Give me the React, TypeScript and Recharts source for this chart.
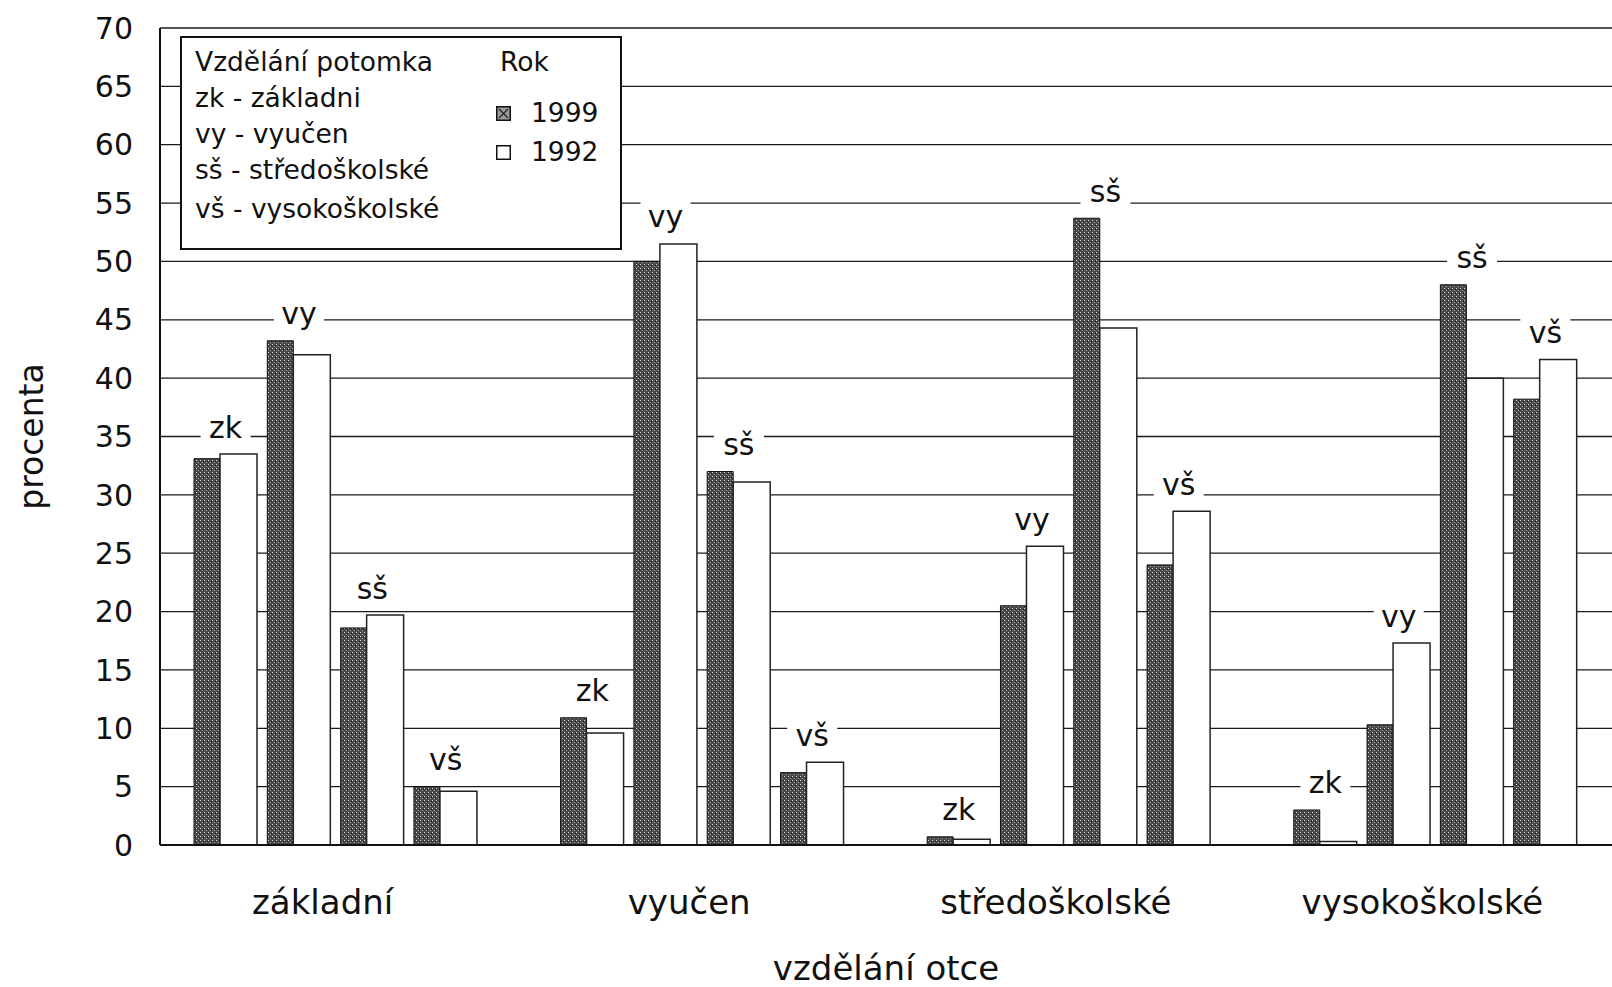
import React from 'react';
import { ComposedChart, Bar, Line, XAxis, YAxis, CartesianGrid, LabelList, Legend } from 'recharts';

const fatherEducation = ['základní', 'vyučen', 'středoškolské', 'vysokoškolské'];
const childCodes = ['zk', 'vy', 'sš', 'vš'];
const values1999 = [
  [33.1, 43.2, 18.6, 5.0],
  [10.9, 50.0, 32.0, 6.2],
  [0.7, 20.5, 53.7, 24.0],
  [3.0, 10.3, 48.0, 38.2],
];
const values1992 = [
  [33.5, 42.0, 19.7, 4.6],
  [9.6, 51.5, 31.1, 7.1],
  [0.5, 25.6, 44.3, 28.6],
  [0.3, 17.3, 40.0, 41.6],
];
const yTicks = [0, 5, 10, 15, 20, 25, 30, 35, 40, 45, 50, 55, 60, 65, 70];
const legendTitle = 'Vzdělání potomka';
const legendLines = ['zk - základni', 'vy - vyučen', 'sš - středoškolské', 'vš - vysokoškolské'];
const legendYearTitle = 'Rok';
const yearLabels = ['1999', '1992'];
const yAxisTitle = 'procenta';
const xAxisTitle = 'vzdělání otce';

type Row = {
  slot: string;
  code: string;
  group: string;
  showGroup: boolean;
  v1999: number | null;
  v1992: number | null;
  top: number | null;
};

const data: Row[] = [];
fatherEducation.forEach((g, gi) => {
  childCodes.forEach((c, ci) => {
    const a = values1999[gi][ci];
    const b = values1992[gi][ci];
    data.push({ slot: `${gi}-${ci}`, code: c, group: g, showGroup: ci === 1, v1999: a, v1992: b, top: Math.max(a, b) });
  });
  if (gi < fatherEducation.length - 1) {
    data.push({ slot: `${gi}-gap`, code: '', group: g, showGroup: false, v1999: null, v1992: null, top: null });
  }
});

const FONT = 'DejaVu Sans, Verdana, sans-serif';
const W = 1612;
const H = 987;
const PAD_L = 29;
const PAD_R = 30;
const Y_AXIS_W = 160;
const BAND = (W - Y_AXIS_W - PAD_L - PAD_R) / data.length;

const GroupTick = (props: any) => {
  const { x, y, payload } = props;
  const row = data.find((d) => d.slot === payload.value);
  if (!row || !row.showGroup) return <g />;
  return (
    <text
      x={x + BAND / 2 - 13}
      y={y + 57}
      textAnchor="middle"
      dominantBaseline="central"
      fontFamily={FONT}
      fontSize={34}
      fill="#111"
    >
      {row.group}
    </text>
  );
};

const PairLabel = (props: any) => {
  const { x, y, value } = props;
  if (!value || x == null || y == null) return <g />;
  const cy = y - 27;
  const w = 50;
  return (
    <g>
      <rect x={x - w / 2} y={cy - 17} width={w} height={34} fill="#fff" />
      <text x={x} y={cy} textAnchor="middle" dominantBaseline="central" fontFamily={FONT} fontSize={30} fill="#111">
        {value}
      </text>
    </g>
  );
};

const Swatch = ({ hatched }: { hatched: boolean }) => (
  <svg width={15} height={15} style={{ display: 'block' }}>
    <rect x={0.75} y={0.75} width={13.5} height={13.5} fill={hatched ? '#9a9a9a' : '#fff'} stroke="#111" strokeWidth={1.5} />
    {hatched && <path d="M3 3L12 12M12 3L3 12" stroke="#222" strokeWidth={1.2} />}
  </svg>
);

const LegendBox = () => {
  const rowTops = [26, 62, 98, 134, 173];
  const lines = [legendTitle, ...legendLines];
  return (
    <div
      style={{
        width: 442,
        height: 214,
        boxSizing: 'border-box',
        border: '2px solid #111',
        background: '#fff',
        position: 'relative',
        fontFamily: FONT,
        fontSize: 26.5,
        color: '#111',
        lineHeight: '32px',
      }}
    >
      {lines.map((t, i) => (
        <div key={t} style={{ position: 'absolute', left: 13, top: rowTops[i] - 18, whiteSpace: 'nowrap' }}>
          {t}
        </div>
      ))}
      <div style={{ position: 'absolute', left: 318, top: 26 - 18, whiteSpace: 'nowrap' }}>{legendYearTitle}</div>
      {yearLabels.map((t, i) => (
        <div
          key={t}
          style={{ position: 'absolute', left: 314, top: (i === 0 ? 75 : 114) - 16, display: 'flex', alignItems: 'center', height: 32 }}
        >
          <Swatch hatched={i === 0} />
          <span style={{ marginLeft: 20, whiteSpace: 'nowrap' }}>{t}</span>
        </div>
      ))}
    </div>
  );
};

export default function App() {
  return (
    <div style={{ position: 'absolute', left: 0, top: 0, width: W, height: H, background: '#fff' }}>
      <ComposedChart
        width={W}
        height={H}
        data={data}
        margin={{ top: 28, right: 0, bottom: 82, left: 0 }}
        barGap={0}
      >
        <defs>
          <pattern id="hatch99" width="4" height="4" patternUnits="userSpaceOnUse">
            <rect width="4" height="4" fill="#4a4a4a" />
            <rect x="0" y="0" width="1" height="1" fill="#d8d8d8" />
            <rect x="2" y="2" width="1" height="1" fill="#a8a8a8" />
            <rect x="3" y="1" width="1" height="1" fill="#222" />
          </pattern>
        </defs>
        <CartesianGrid vertical={false} stroke="#1a1a1a" strokeWidth={1.3} />
        <XAxis
          dataKey="slot"
          type="category"
          padding={{ left: PAD_L, right: PAD_R }}
          axisLine={{ stroke: '#111', strokeWidth: 2 }}
          tickLine={false}
          tickSize={0}
          tickMargin={0}
          height={60}
          interval={0}
          tick={<GroupTick />}
          label={{ value: xAxisTitle, position: 'insideBottom', offset: -75, fontFamily: FONT, fontSize: 34, fill: '#111' }}
        />
        <YAxis
          type="number"
          domain={[0, 70]}
          ticks={yTicks}
          interval={0}
          width={Y_AXIS_W}
          axisLine={{ stroke: '#111', strokeWidth: 2 }}
          tickLine={false}
          tickSize={0}
          tickMargin={27}
          tick={{ fontFamily: FONT, fontSize: 30, fill: '#111' }}
          label={{
            value: yAxisTitle,
            angle: -90,
            position: 'insideLeft',
            offset: 31,
            textAnchor: 'middle',
            fontFamily: FONT,
            fontSize: 33,
            fill: '#111',
          }}
        />
        <Bar dataKey="v1999" name="1999" barSize={26} fill="url(#hatch99)" stroke="#111" strokeWidth={1} isAnimationActive={false} />
        <Bar dataKey="v1992" name="1992" barSize={37} fill="#fff" stroke="#222" strokeWidth={1.5} isAnimationActive={false} />
        <Line
          dataKey="top"
          stroke="none"
          dot={false}
          activeDot={false}
          legendType="none"
          isAnimationActive={false}
          connectNulls={false}
        >
          <LabelList dataKey="code" content={<PairLabel />} />
        </Line>
        <Legend
          layout="horizontal"
          verticalAlign="middle"
          align="center"
          wrapperStyle={{ left: 180, top: 36, width: 442, height: 214 }}
          content={<LegendBox />}
        />
      </ComposedChart>
    </div>
  );
}
